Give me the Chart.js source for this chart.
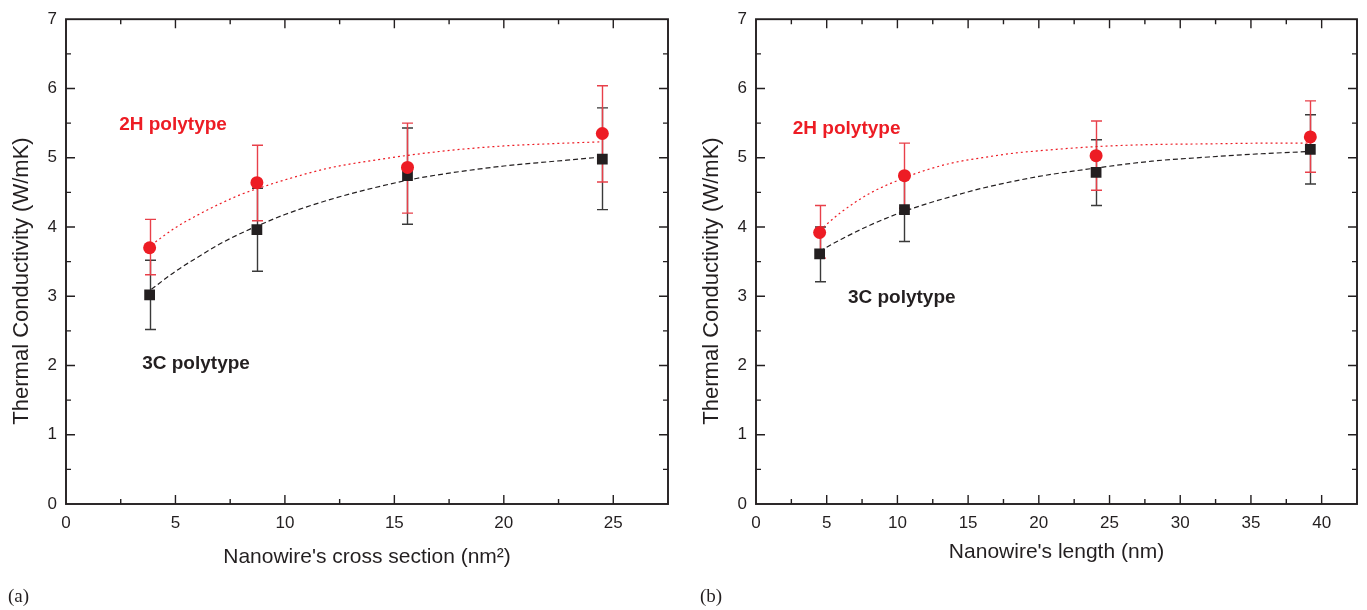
<!DOCTYPE html>
<html><head><meta charset="utf-8">
<script src="https://cdn.jsdelivr.net/npm/chart.js@4.4.1/dist/chart.umd.min.js"></script>
<style>
html,body{margin:0;padding:0;background:#fff;width:1367px;height:610px;overflow:hidden}
#wa{position:absolute;left:0;top:0;width:683px;height:610px}
#wb{position:absolute;left:683px;top:0;width:684px;height:610px}
</style></head><body>
<div id="wa"><canvas id="ca"></canvas></div>
<div id="wb"><canvas id="cb"></canvas></div>
<script>
// ---------- Panel (a): thermal conductivity vs cross section ----------
const crossSection = [3.82, 8.72, 15.6, 24.5];
const k2H_a    = [3.70, 4.64, 4.86, 5.35];
const k2H_a_lo = [3.31, 4.09, 4.20, 4.65];
const k2H_a_hi = [4.11, 5.18, 5.50, 6.04];
const k3C_a    = [3.02, 3.96, 4.74, 4.98];
const k3C_a_lo = [2.52, 3.36, 4.04, 4.25];
const k3C_a_hi = [3.52, 4.56, 5.43, 5.72];
const fitX_a   = [3.9, 5, 6, 7, 8, 9, 10, 12, 14, 16, 18, 20, 22, 24.5];
const fit2H_a  = [3.74, 3.99, 4.17, 4.33, 4.47, 4.58, 4.68, 4.85, 4.96, 5.05, 5.12, 5.17, 5.20, 5.23];
const fit3C_a  = [3.10, 3.36, 3.56, 3.75, 3.91, 4.05, 4.18, 4.39, 4.56, 4.70, 4.80, 4.88, 4.94, 5.01];
const xTicks_a = [0, 5, 10, 15, 20, 25];

// ---------- Panel (b): thermal conductivity vs length ----------
const lengthNm = [4.5, 10.5, 24.05, 39.2];
const k2H_b    = [3.92, 4.74, 5.03, 5.30];
const k2H_b_lo = [3.55, 4.27, 4.53, 4.79];
const k2H_b_hi = [4.31, 5.21, 5.53, 5.82];
const k3C_b    = [3.61, 4.25, 4.79, 5.12];
const k3C_b_lo = [3.21, 3.79, 4.31, 4.62];
const k3C_b_hi = [4.00, 4.71, 5.26, 5.62];
const fitX_b   = [4.5, 6, 8, 10, 12, 14, 16, 18, 20, 24, 28, 32, 36, 39.2];
const fit2H_b  = [3.95, 4.21, 4.48, 4.67, 4.82, 4.93, 5.00, 5.06, 5.10, 5.16, 5.19, 5.20, 5.21, 5.21];
const fit3C_b  = [3.65, 3.82, 4.02, 4.19, 4.33, 4.45, 4.56, 4.65, 4.73, 4.85, 4.95, 5.01, 5.06, 5.09];
const xTicks_b = [0, 5, 10, 15, 20, 25, 30, 35, 40];

const yTicks = [0, 1, 2, 3, 4, 5, 6, 7];

const RED = '#ed1c24';
const RED_BAR = '#e8404a';
const BLACK = '#231f20';
const FONT = "'Liberation Sans', Arial, Helvetica, sans-serif";

Chart.defaults.font.family = FONT;
Chart.defaults.color = BLACK;

function pts(xs, ys){ return xs.map((x,i)=>({x:x, y:ys[i]})); }

const errorBars = {
  id:'errorBars',
  beforeDatasetsDraw(chart, args, o){
    const ctx = chart.ctx, xs = chart.scales.x, ys = chart.scales.y;
    ctx.save();
    o.sets.forEach(s=>{
      ctx.strokeStyle = s.color; ctx.lineWidth = 1.4;
      s.x.forEach((xv,i)=>{
        const px = Math.round(xs.getPixelForValue(xv))+0.5;
        const p1 = ys.getPixelForValue(s.lo[i]);
        const p2 = ys.getPixelForValue(s.hi[i]);
        ctx.beginPath();
        ctx.moveTo(px,p1); ctx.lineTo(px,p2);
        ctx.moveTo(px-5.5,p1); ctx.lineTo(px+5.5,p1);
        ctx.moveTo(px-5.5,p2); ctx.lineTo(px+5.5,p2);
        ctx.stroke();
      });
    });
    ctx.restore();
  }
};

const frameTicks = {
  id:'frameTicks',
  afterDatasetsDraw(chart, args, o){
    const ctx = chart.ctx, a = chart.chartArea, xs = chart.scales.x, ys = chart.scales.y;
    ctx.save();
    ctx.strokeStyle = BLACK;
    ctx.lineWidth = 1.9;
    ctx.strokeRect(a.left, a.top, a.right-a.left, a.bottom-a.top);
    ctx.lineWidth = 1.4;
    ctx.beginPath();
    const xt = o.xTicks;
    const xMinor = [];
    for (let i=0;i<xt.length;i++){
      const step = xt[1]-xt[0];
      const m = xt[i]+step/2;
      if (m < xs.max) xMinor.push(m);
    }
    const tickX = (v,len)=>{
      const p = xs.getPixelForValue(v);
      ctx.moveTo(p,a.bottom); ctx.lineTo(p,a.bottom-len);
      ctx.moveTo(p,a.top); ctx.lineTo(p,a.top+len);
    };
    xt.forEach(v=>{ if(v>xs.min && v<xs.max) tickX(v,9); });
    xMinor.forEach(v=>tickX(v,5));
    const yt = o.yTicks;
    const tickY = (v,len)=>{
      const p = ys.getPixelForValue(v);
      ctx.moveTo(a.left,p); ctx.lineTo(a.left+len,p);
      ctx.moveTo(a.right,p); ctx.lineTo(a.right-len,p);
    };
    yt.forEach(v=>{ if(v>ys.min && v<ys.max) tickY(v,9); });
    for (let i=0;i<yt.length-1;i++) tickY((yt[i]+yt[i+1])/2,5);
    ctx.stroke();
    ctx.restore();
  }
};

const texts = {
  id:'texts',
  afterDraw(chart, args, o){
    const ctx = chart.ctx, a = chart.chartArea, xs = chart.scales.x, ys = chart.scales.y;
    ctx.save();
    o.notes.forEach(n=>{
      ctx.font = 'bold 19px ' + FONT;
      ctx.fillStyle = n.color;
      ctx.textAlign = 'left'; ctx.textBaseline = 'middle';
      ctx.fillText(n.text, xs.getPixelForValue(n.x), ys.getPixelForValue(n.y));
    });
    ctx.fillStyle = BLACK;
    ctx.font = '21px ' + FONT;
    ctx.textAlign = 'center'; ctx.textBaseline = 'middle';
    ctx.fillText(o.xTitle, (a.left+a.right)/2, o.xTitleY);
    ctx.save();
    ctx.font = '22px ' + FONT;
    ctx.translate(o.yTitleX, 281);
    ctx.rotate(-Math.PI/2);
    ctx.fillText('Thermal Conductivity (W/mK)', 0, 0);
    ctx.restore();
    ctx.font = '19px "Liberation Serif", "Times New Roman", serif';
    ctx.textAlign = 'left';
    ctx.fillText(o.panel, o.panelX, 597);
    ctx.restore();
  }
};

function makeChart(id, cfg){
  return new Chart(document.getElementById(id), {
    type:'scatter',
    data:{ datasets:[
      { data: pts(cfg.fx, cfg.f2H), showLine:true, borderColor:RED, borderWidth:1.2, borderDash:[2,3], pointRadius:0, cubicInterpolationMode:'monotone', order:2 },
      { data: pts(cfg.fx, cfg.f3C), showLine:true, borderColor:BLACK, borderWidth:1.2, borderDash:[5,3], pointRadius:0, cubicInterpolationMode:'monotone', order:3 },
      { data: pts(cfg.x, cfg.k2H), showLine:false, pointStyle:'circle', pointRadius:6.5, backgroundColor:RED, borderColor:RED, borderWidth:0, order:0 },
      { data: pts(cfg.x, cfg.k3C), showLine:false, pointStyle:'rect', pointRadius:7.6, backgroundColor:BLACK, borderColor:BLACK, borderWidth:0, order:1 }
    ]},
    options:{
      responsive:true, maintainAspectRatio:false, animation:false,
      layout:{ padding:{ top:15, right:cfg.padRight, left:0, bottom:0 } },
      plugins:{
        legend:{display:false}, tooltip:{enabled:false},
        errorBars:{ sets:[
          {x:cfg.x, lo:cfg.k3C_lo, hi:cfg.k3C_hi, color:'#3a3a3a'},
          {x:cfg.x, lo:cfg.k2H_lo, hi:cfg.k2H_hi, color:RED_BAR}
        ]},
        frameTicks:{ xTicks:cfg.xTicks, yTicks:yTicks },
        texts:{ notes:cfg.notes, xTitle:cfg.xTitle, xTitleY:cfg.xTitleY, yTitleX:cfg.yTitleX, panel:cfg.panel, panelX:cfg.panelX }
      },
      scales:{
        x:{ type:'linear', min:0, max:cfg.xMax,
            afterBuildTicks: s=>{ s.ticks = cfg.xTicks.map(v=>({value:v})); },
            afterFit: s=>{ s.height = 106; },
            grid:{display:false, drawTicks:false}, border:{display:false},
            ticks:{ padding:9, font:{size:17}, color:BLACK, maxRotation:0, autoSkip:false } },
        y:{ type:'linear', min:0, max:7,
            afterBuildTicks: s=>{ s.ticks = yTicks.map(v=>({value:v})); },
            afterFit: s=>{ s.width = cfg.yWidth; },
            grid:{display:false, drawTicks:false}, border:{display:false},
            ticks:{ padding:9, font:{size:17}, color:BLACK } }
      }
    },
    plugins:[errorBars, frameTicks, texts]
  });
}

makeChart('ca', {
  x:crossSection, k2H:k2H_a, k2H_lo:k2H_a_lo, k2H_hi:k2H_a_hi,
  k3C:k3C_a, k3C_lo:k3C_a_lo, k3C_hi:k3C_a_hi,
  fx:fitX_a, f2H:fit2H_a, f3C:fit3C_a, xTicks:xTicks_a, xMax:27.5,
  padRight:15, yWidth:66,
  notes:[ {text:'2H polytype', color:RED, x:2.43, y:5.47}, {text:'3C polytype', color:BLACK, x:3.48, y:2.02} ],
  xTitle:"Nanowire's cross section (nm\u00B2)", xTitleY:557, yTitleX:22, panel:'(a)', panelX:8
});
makeChart('cb', {
  x:lengthNm, k2H:k2H_b, k2H_lo:k2H_b_lo, k2H_hi:k2H_b_hi,
  k3C:k3C_b, k3C_lo:k3C_b_lo, k3C_hi:k3C_b_hi,
  fx:fitX_b, f2H:fit2H_b, f3C:fit3C_b, xTicks:xTicks_b, xMax:42.5,
  padRight:10, yWidth:73,
  notes:[ {text:'2H polytype', color:RED, x:2.6, y:5.42}, {text:'3C polytype', color:BLACK, x:6.5, y:2.98} ],
  xTitle:"Nanowire's length (nm)", xTitleY:552, yTitleX:29, panel:'(b)', panelX:17
});
</script>
</body></html>
